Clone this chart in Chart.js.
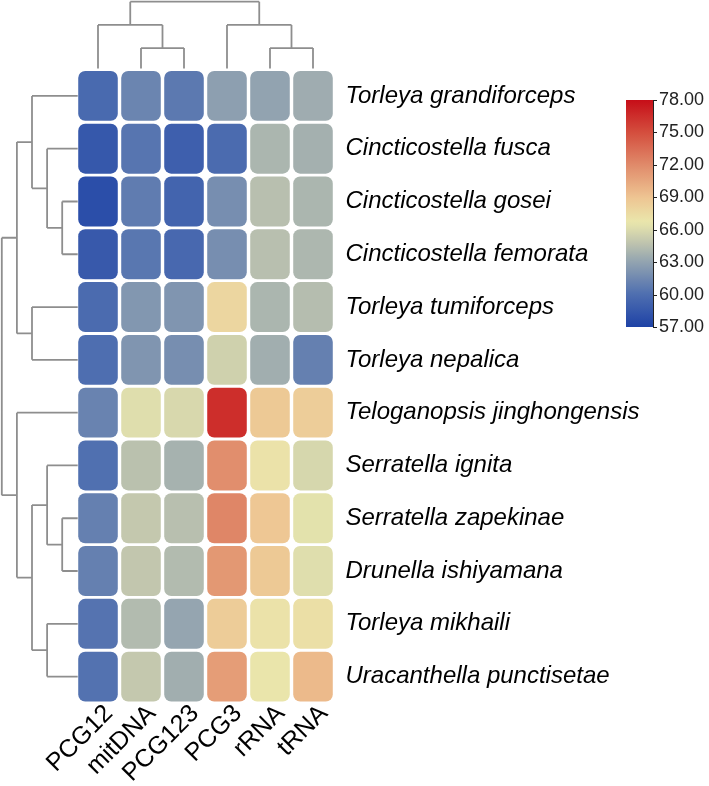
<!DOCTYPE html>
<html><head><meta charset="utf-8">
<script src="https://cdn.jsdelivr.net/npm/chart.js@4/dist/chart.umd.min.js"></script>
<style>html,body{margin:0;padding:0;background:#fff;}#wrap{width:709px;height:786px;}</style>
</head><body><div id="wrap"><canvas id="c" width="709" height="786"></canvas></div>
<script>
// ---------- data ----------
const columns = ['PCG12','mitDNA','PCG123','PCG3','rRNA','tRNA'];
const species = ['Torleya grandiforceps','Cincticostella fusca','Cincticostella gosei','Cincticostella femorata',
  'Torleya tumiforceps','Torleya nepalica','Teloganopsis jinghongensis','Serratella ignita',
  'Serratella zapekinae','Drunella ishiyamana','Torleya mikhaili','Uracanthella punctisetae'];
const PCG12  = [59.7,58.5,57.8,58.6,59.8,60.0,61.2,60.1,61.0,61.0,60.3,60.2];
const mitDNA = [61.3,60.4,60.8,60.5,62.3,62.2,66.2,64.6,65.0,64.9,64.3,65.0];
const PCG123 = [60.6,59.0,59.3,59.6,62.2,61.8,65.9,63.8,64.5,64.3,63.1,63.6];
const PCG3   = [62.8,59.8,61.8,61.8,67.8,65.5,76.5,71.8,72.2,71.3,68.5,71.0];
const rRNA   = [63.0,64.0,64.5,64.5,64.0,63.6,68.7,67.0,68.8,68.7,67.0,66.8];
const tRNA   = [63.5,63.7,64.0,64.1,64.4,61.0,68.4,65.8,66.4,66.2,67.2,69.5];
const colorbarTicks = [57,60,63,66,69,72,75,78];
// dendrogram merges: [left, right, height]; leaves are 0..n-1, merged clusters n, n+1, ...
const rowMerges = [[2,3,1],[1,12,2],[0,13,3],[4,5,3],[14,15,4],[8,9,1],[7,17,2],[10,11,2],[18,19,3],[6,20,4],[16,21,5]];
const colMerges = [[1,2,1],[4,5,1],[0,6,2],[3,7,2],[8,9,3]];

const seriesByColumn = [PCG12, mitDNA, PCG123, PCG3, rRNA, tRNA];
const vmin = colorbarTicks[0], vmax = colorbarTicks[colorbarTicks.length-1];

// ---------- colour map ----------
const cmap = [[57,[30,66,166]],[60,[78,110,176]],[63,[146,163,176]],[65,[196,200,174]],[66.7,[234,231,172]],
  [69,[238,196,146]],[72,[224,138,106]],[75,[212,78,62]],[78,[198,14,24]]];
function colorFor(v){
  v = Math.max(vmin, Math.min(vmax, v));
  for (let i=0;i<cmap.length-1;i++){
    const [a,ca]=cmap[i],[b,cb]=cmap[i+1];
    if (v<=b){const t=(v-a)/(b-a);
      return 'rgb('+ca.map((c,k)=>Math.round(c+(cb[k]-c)*t)).join(',')+')';}
  }
  return 'rgb('+cmap[cmap.length-1][1].join(',')+')';
}

// ---------- datasets: one floating-bar row per species ----------
const GAP = 0.027;
const datasets = species.map((sp, r) => ({
  label: sp,
  data: columns.map(() => [r + GAP, r + 1 - GAP]),
  backgroundColor: columns.map((c, j) => colorFor(seriesByColumn[j][r])),
  borderWidth: 0,
  borderRadius: 7,
  borderSkipped: false,
  grouped: false,
  barPercentage: 0.92,
  categoryPercentage: 1.0
}));

// ---------- dendrogram + colourbar plugin ----------
function drawTree(ctx, merges, nLeaves, leafPos, heightPos, leafEdge, horizontal){
  const pos = [], hgt = [];
  for (let i=0;i<nLeaves;i++){pos.push(leafPos(i)); hgt.push(null);}
  ctx.beginPath();
  merges.forEach(([a,b,h]) => {
    const hp = heightPos(h);
    [a,b].forEach(k => {
      const from = hgt[k]===null ? leafEdge : heightPos(hgt[k]);
      if (horizontal){ ctx.moveTo(from, pos[k]); ctx.lineTo(hp, pos[k]); }
      else { ctx.moveTo(pos[k], from); ctx.lineTo(pos[k], hp); }
    });
    if (horizontal){ ctx.moveTo(hp, pos[a]); ctx.lineTo(hp, pos[b]); }
    else { ctx.moveTo(pos[a], hp); ctx.lineTo(pos[b], hp); }
    pos.push((pos[a]+pos[b])/2); hgt.push(h);
  });
  ctx.stroke();
}

const extras = {
  id: 'extras',
  afterDraw(chart){
    const ctx = chart.ctx, x = chart.scales.x, y = chart.scales.y, ca = chart.chartArea;
    ctx.save();
    ctx.strokeStyle = '#8e8e8e'; ctx.lineWidth = 1.8; ctx.lineCap = 'butt';
    // left (row) dendrogram
    const rowStep = 15.1;
    drawTree(ctx, rowMerges, species.length, i => y.getPixelForValue(i + 0.5),
      h => ca.left + 0.8 - rowStep*h, ca.left + 1.2, true);
    // top (column) dendrogram
    const colStep = 23.2;
    drawTree(ctx, colMerges, columns.length, j => x.getPixelForValue(j),
      h => ca.top + 1.8 - colStep*h, ca.top - 1, false);

    // colour bar
    const cbL = 626, cbR = 653, cbT = 100, cbB = 327;
    const yv = v => cbB - (v - vmin)/(vmax - vmin)*(cbB - cbT);
    const grad = ctx.createLinearGradient(0, cbB, 0, cbT);
    for (let k=0;k<=60;k++){const v=vmin+(vmax-vmin)*k/60; grad.addColorStop(k/60, colorFor(v));}
    ctx.fillStyle = grad; ctx.fillRect(cbL, cbT, cbR-cbL, cbB-cbT);
    ctx.strokeStyle = '#222'; ctx.lineWidth = 1;
    ctx.beginPath(); ctx.moveTo(cbR+0.5, cbT); ctx.lineTo(cbR+0.5, cbB);
    colorbarTicks.forEach(t => { const py = Math.round(yv(t))+0.5; ctx.moveTo(cbR, py); ctx.lineTo(cbR+4, py); });
    ctx.stroke();
    ctx.fillStyle = '#222'; ctx.font = '18px "Liberation Sans", Arial, sans-serif';
    ctx.textAlign = 'left'; ctx.textBaseline = 'middle';
    colorbarTicks.forEach(t => ctx.fillText(t.toFixed(2), cbR + 6, yv(t)));
    ctx.restore();
  }
};

new Chart(document.getElementById('c'), {
  type: 'bar',
  data: { labels: columns, datasets },
  options: {
    responsive: false, animation: false, devicePixelRatio: 1,
    layout: { padding: { left: 76.5, top: 69.5, right: 0, bottom: 0 } },
    plugins: { legend: { display: false }, tooltip: { enabled: false } },
    scales: {
      x: {
        position: 'bottom', offset: true,
        grid: { display: false, drawTicks: false }, border: { display: false },
        ticks: { color: '#000', font: { family: '"Liberation Sans", Arial, sans-serif', size: 25 },
          minRotation: 45, maxRotation: 45, padding: -4, labelOffset: 11, autoSkip: false },
        afterFit: s => { s.height = 83; }
      },
      y: {
        type: 'linear', position: 'right', min: 0, max: species.length, reverse: true,
        grid: { display: false, drawTicks: false }, border: { display: false },
        afterBuildTicks: s => { s.ticks = species.map((sp, i) => ({ value: i + 0.5 })); },
        ticks: { color: '#000', padding: 11, autoSkip: false,
          font: { family: '"Liberation Sans", Arial, sans-serif', size: 24, style: 'italic' },
          callback: (v, i) => species[i] },
        afterFit: s => { s.width = 374.5; }
      }
    }
  },
  plugins: [extras]
});
</script></body></html>
